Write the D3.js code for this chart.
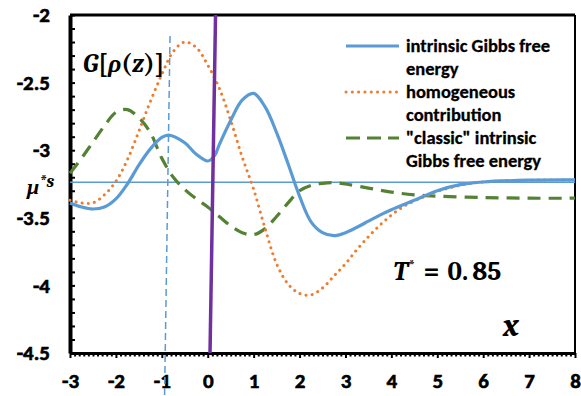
<!DOCTYPE html>
<html><head><meta charset="utf-8">
<script src="https://cdn.jsdelivr.net/npm/d3@7"></script>
<style>
body{margin:0;background:#fff;}
svg{display:block;}
</style></head>
<body>
<svg id="chart" width="581" height="396"></svg>
<script>
// ---- data ----
const xIntrinsic = [-3,-2.75,-2.5,-2.25,-2,-1.75,-1.5,-1.25,-1,-0.85,-0.5,-0.25,0,0.15,0.25,0.5,0.75,1,1.25,1.5,1.75,2,2.25,2.5,2.75,3,3.25,3.5,3.75,4,4.5,5,5.5,6,7,8];
const yIntrinsic = [-3.39,-3.42,-3.435,-3.42,-3.36,-3.25,-3.11,-2.99,-2.905,-2.888,-2.945,-3.03,-3.08,-3.04,-2.96,-2.78,-2.63,-2.58,-2.68,-2.87,-3.10,-3.34,-3.53,-3.61,-3.632,-3.61,-3.57,-3.525,-3.48,-3.44,-3.37,-3.30,-3.255,-3.235,-3.222,-3.22];

const xHomog = [-3,-2.75,-2.5,-2.25,-2,-1.75,-1.5,-1.25,-1,-0.75,-0.5,-0.25,0,0.25,0.5,0.75,1,1.25,1.5,1.75,2,2.25,2.5,2.75,3,3.25,3.5,3.75,4,4.25,4.5,4.75,5,5.5,6,7,8];
const yHomog = [-3.37,-3.39,-3.39,-3.33,-3.23,-3.07,-2.86,-2.64,-2.44,-2.27,-2.20,-2.24,-2.37,-2.54,-2.78,-3.05,-3.29,-3.58,-3.84,-3.99,-4.06,-4.07,-4.02,-3.93,-3.84,-3.735,-3.64,-3.555,-3.48,-3.42,-3.375,-3.34,-3.305,-3.26,-3.235,-3.222,-3.22];

const xClassic = [-3,-2.75,-2.5,-2.25,-2,-1.75,-1.5,-1.25,-1,-0.75,-0.5,-0.25,0,0.25,0.5,0.75,1,1.25,1.5,1.75,2,2.25,2.5,2.75,3,3.5,4,4.5,5,6,7,8];
const yClassic = [-3.17,-3.06,-2.94,-2.82,-2.72,-2.70,-2.76,-2.87,-3.06,-3.20,-3.29,-3.36,-3.42,-3.49,-3.56,-3.61,-3.625,-3.58,-3.49,-3.39,-3.30,-3.26,-3.245,-3.24,-3.25,-3.28,-3.31,-3.33,-3.34,-3.35,-3.355,-3.355];

const muS = -3.237;
const purpleLineX = [0.05, 0.17];   // at y = -4.5 and y = -2
const purpleLineY = [-4.5, -2];
const dashLineX = [-0.94, -0.82];
const dashLineY = [-4.81, -2.13];

const xTickLabels = [-3,-2,-1,0,1,2,3,4,5,6,7,8];
const yTickLabels = [-2,-2.5,-3,-3.5,-4,-4.5];
const seriesNames = [["intrinsic Gibbs free","energy"],["homogeneous","contribution"],["\"classic\" intrinsic","Gibbs free energy"]];

// ---- layout ----
const W = 581, H = 396;
const m = {left:70, top:15, right:6, bottom:43};
const svg = d3.select("#chart");
const x = d3.scaleLinear().domain([-3,8]).range([m.left, W - m.right]);
const y = d3.scaleLinear().domain([-4.5,-2]).range([H - m.bottom, m.top]);

const BLUE = "#5B9BD5", ORANGE = "#ED7D31", GREEN = "#548235", PURPLE = "#7030A0";
const LBL = "Calibri, Carlito, Lato, 'Liberation Sans', sans-serif";
const MATH = "'Cambria Math', Cambria, 'Liberation Serif', 'DejaVu Serif', serif";

// frame top/right
svg.append("line").attr("x1", x(-3)).attr("x2", x(8)).attr("y1", y(-2)).attr("y2", y(-2))
  .attr("stroke", "#000").attr("stroke-width", 3);
svg.append("line").attr("x1", x(8)).attr("x2", x(8)).attr("y1", y(-2)).attr("y2", y(-4.5))
  .attr("stroke", "#000").attr("stroke-width", 2);

// minor ticks
const yMinor = d3.range(0, 26).map(i => -4.5 + i * 0.1);
const xMinor = d3.range(0, 111).map(i => -3 + i * 0.1);

const yAxis = d3.axisLeft(y).tickValues(yMinor).tickSizeInner(-5).tickSizeOuter(0).tickPadding(20)
  .tickFormat(d => {
    const r = Math.round(d * 10) / 10;
    return yTickLabels.some(v => Math.abs(v - r) < 1e-6) ? String(r) : "";
  });
const gy = svg.append("g").attr("transform", `translate(${m.left},0)`).call(yAxis);
gy.select(".domain").attr("stroke-width", 4);
gy.selectAll(".tick line").attr("stroke-width", 2);
gy.selectAll("text").attr("font-family", LBL).attr("font-weight", "bold").attr("font-size", 21)
  .attr("fill", "#000").attr("stroke", "#000").attr("stroke-width", 0.6);

const xAxis = d3.axisBottom(x).tickValues(xMinor).tickSizeInner(3).tickSizeOuter(0).tickPadding(17)
  .tickFormat(d => {
    const r = Math.round(d * 10) / 10;
    return xTickLabels.some(v => Math.abs(v - r) < 1e-6) ? String(r) : "";
  });
const gx = svg.append("g").attr("transform", `translate(0,${H - m.bottom})`).call(xAxis);
gx.select(".domain").attr("stroke-width", 3);
gx.selectAll(".tick line").attr("stroke-width", 2)
  .attr("y2", d => xTickLabels.some(v => Math.abs(v - d) < 1e-6) ? 5 : 3.5);
gx.selectAll("text").attr("font-family", LBL).attr("font-weight", "bold").attr("font-size", 21)
  .attr("fill", "#000").attr("stroke", "#000").attr("stroke-width", 0.6);

// mu line
svg.append("line").attr("x1", x(-3)).attr("x2", x(8)).attr("y1", y(muS)).attr("y2", y(muS))
  .attr("stroke", BLUE).attr("stroke-width", 1.6);

// dashed vertical line
svg.append("line").attr("x1", x(dashLineX[0])).attr("y1", y(dashLineY[0]))
  .attr("x2", x(dashLineX[1])).attr("y2", y(dashLineY[1]))
  .attr("stroke", BLUE).attr("stroke-width", 1.5).attr("stroke-dasharray", "7,4");

const line = d3.line().x(d => x(d[0])).y(d => y(d[1])).curve(d3.curveCatmullRom.alpha(0.5));
const zip = (a, b) => a.map((v, i) => [v, b[i]]);

svg.append("path").datum(zip(xClassic, yClassic)).attr("d", line)
  .attr("fill", "none").attr("stroke", GREEN).attr("stroke-width", 3.2).attr("stroke-dasharray", "13,8");
svg.append("path").datum(zip(xHomog, yHomog)).attr("d", line)
  .attr("fill", "none").attr("stroke", ORANGE).attr("stroke-width", 3).attr("stroke-linecap", "round")
  .attr("stroke-dasharray", "0.1,6.1");
svg.append("path").datum(zip(xIntrinsic, yIntrinsic)).attr("d", line)
  .attr("fill", "none").attr("stroke", BLUE).attr("stroke-width", 3.2);

// purple vertical line
svg.append("line").attr("x1", x(purpleLineX[0])).attr("y1", y(purpleLineY[0]))
  .attr("x2", x(purpleLineX[1])).attr("y2", y(purpleLineY[1]))
  .attr("stroke", PURPLE).attr("stroke-width", 3.5);

// legend
const legX1 = 346, legX2 = 399, legTx = 406;
const legRows = [46, 92, 138];
const styles = [
  {c: BLUE, w: 3.2, da: null, cap: "butt"},
  {c: ORANGE, w: 3, da: "0.1,6.2", cap: "round"},
  {c: GREEN, w: 3.2, da: "14,7", cap: "butt"}
];
const leg = svg.append("g");
legRows.forEach((ly, i) => {
  leg.append("line").attr("x1", legX1).attr("x2", legX2).attr("y1", ly).attr("y2", ly)
    .attr("stroke", styles[i].c).attr("stroke-width", styles[i].w)
    .attr("stroke-dasharray", styles[i].da).attr("stroke-linecap", styles[i].cap);
  seriesNames[i].forEach((t, j) => {
    leg.append("text").attr("x", legTx).attr("y", ly + 6 + j * 23.3).text(t)
      .attr("font-family", LBL).attr("font-weight", "bold").attr("font-size", 18.5)
      .attr("fill", "#000").attr("stroke", "#000").attr("stroke-width", 0.3);
  });
});

// math labels
const g1 = svg.append("text").attr("x", 83).attr("y", 72).attr("font-family", MATH)
  .attr("font-weight", "bold").attr("font-size", 26).attr("fill", "#000");
g1.append("tspan").attr("font-style", "italic").text("G");
g1.append("tspan").text("[");
g1.append("tspan").attr("font-style", "italic").text("ρ");
g1.append("tspan").text("(");
g1.append("tspan").attr("font-style", "italic").text("z");
g1.append("tspan").text(")]");

const mu = svg.append("text").attr("x", 27).attr("y", 194).attr("font-family", MATH)
  .attr("font-weight", "bold").attr("font-size", 22).attr("fill", "#000").attr("font-style", "italic");
mu.append("tspan").text("μ");
mu.append("tspan").attr("dy", -7).attr("font-size", 18).text("*s");

const tt = svg.append("text").attr("x", 393).attr("y", 280).attr("font-family", MATH)
  .attr("font-weight", "bold").attr("font-size", 27).attr("fill", "#000");
tt.append("tspan").attr("font-style", "italic").text("T");
tt.append("tspan").attr("dy", -9).attr("font-size", 16).text("*");
tt.append("tspan").attr("dy", 9).attr("dx", 8).text("=");
tt.append("tspan").attr("dx", 8).text("0.");
tt.append("tspan").attr("dx", 4).text("85");

svg.append("text").attr("x", 503).attr("y", 336).attr("font-family", MATH)
  .attr("font-weight", "bold").attr("font-style", "italic").attr("font-size", 33).attr("fill", "#000").text("x");
</script>
</body></html>
